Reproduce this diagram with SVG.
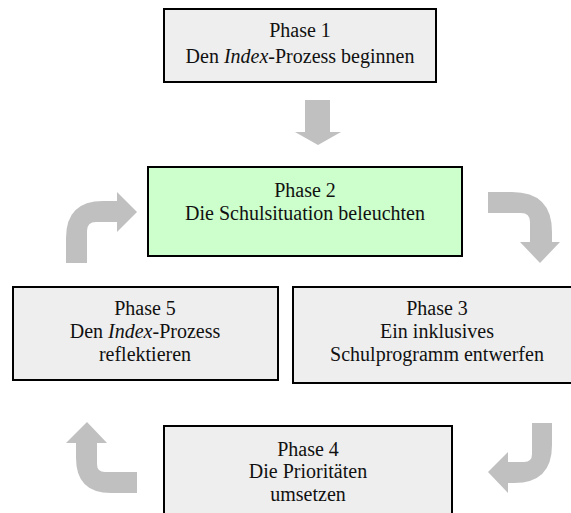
<svg xmlns="http://www.w3.org/2000/svg" width="571" height="513" viewBox="0 0 571 513">
  <style>
    .box { fill: #eeeeee; stroke: #000000; stroke-width: 2; }
    .box.active { fill: #ccffcc; }
    .label { font-family: "Liberation Serif", "Times New Roman", serif; font-size: 20px; fill: #111111; text-anchor: middle; }
    .em { font-style: italic; }
    .flow { fill: #c0c0c0; stroke: none; }
  </style>
  <rect width="571" height="513" fill="#ffffff"/>

  <!-- Flow arrows between the phases -->
  <g id="connectors">
    <!-- Phase 1 to Phase 2 -->
    <path class="flow" d="M305,100 L330,100 L330,132 L341,132 L318,145 L295,132 L305,132 Z"/>
    <!-- Phase 2 to Phase 3 -->
    <path class="flow" d="M488,192 L512,192 Q552,192 552,232 L552,242 L560,242 L540,263 L520,242 L530,242 L530,222 Q530,213 521,213 L488,213 Z"/>
    <!-- Phase 3 to Phase 4 -->
    <path class="flow" d="M532,423 L552,423 L552,445 Q552,483 514,483 L508,483 L508,493 L488,472 L508,452 L508,462 L524,462 Q532,462 532,454 Z"/>
    <!-- Phase 4 to Phase 5 -->
    <path class="flow" d="M137,472 L105,472 Q97,472 97,464 L97,443 L107,443 L87,422 L66,443 L76,443 L76,458 Q76,493 111,493 L137,493 Z"/>
    <!-- Phase 5 to Phase 2 -->
    <path class="flow" d="M66,263 L66,238 Q66,201 103,201 L117,201 L117,192 L137,212 L117,232 L117,222 L96,222 Q87,222 87,231 L87,263 Z"/>
  </g>

  <g id="phase1">
    <rect class="box" x="164" y="9" width="272" height="73"/>
    <text class="label" x="300" y="37">Phase 1</text>
    <text class="label" x="300" y="63">Den <tspan class="em">Index</tspan>-Prozess beginnen</text>
  </g>

  <g id="phase2">
    <rect class="box active" x="148" y="167" width="314" height="89"/>
    <text class="label" x="305" y="197">Phase 2</text>
    <text class="label" x="305" y="220">Die Schulsituation beleuchten</text>
  </g>

  <g id="phase3">
    <rect class="box" x="293" y="287" width="290" height="96"/>
    <text class="label" x="437" y="315">Phase 3</text>
    <text class="label" x="437" y="338">Ein inklusives</text>
    <text class="label" x="437" y="361">Schulprogramm entwerfen</text>
  </g>

  <g id="phase4">
    <rect class="box" x="164" y="426" width="288" height="100"/>
    <text class="label" x="308" y="456">Phase 4</text>
    <text class="label" x="308" y="478">Die Prioritäten</text>
    <text class="label" x="308" y="501">umsetzen</text>
  </g>

  <g id="phase5">
    <rect class="box" x="13" y="287" width="265" height="93"/>
    <text class="label" x="145" y="315">Phase 5</text>
    <text class="label" x="145" y="338">Den <tspan class="em">Index</tspan>-Prozess</text>
    <text class="label" x="145" y="361">reflektieren</text>
  </g>
</svg>
